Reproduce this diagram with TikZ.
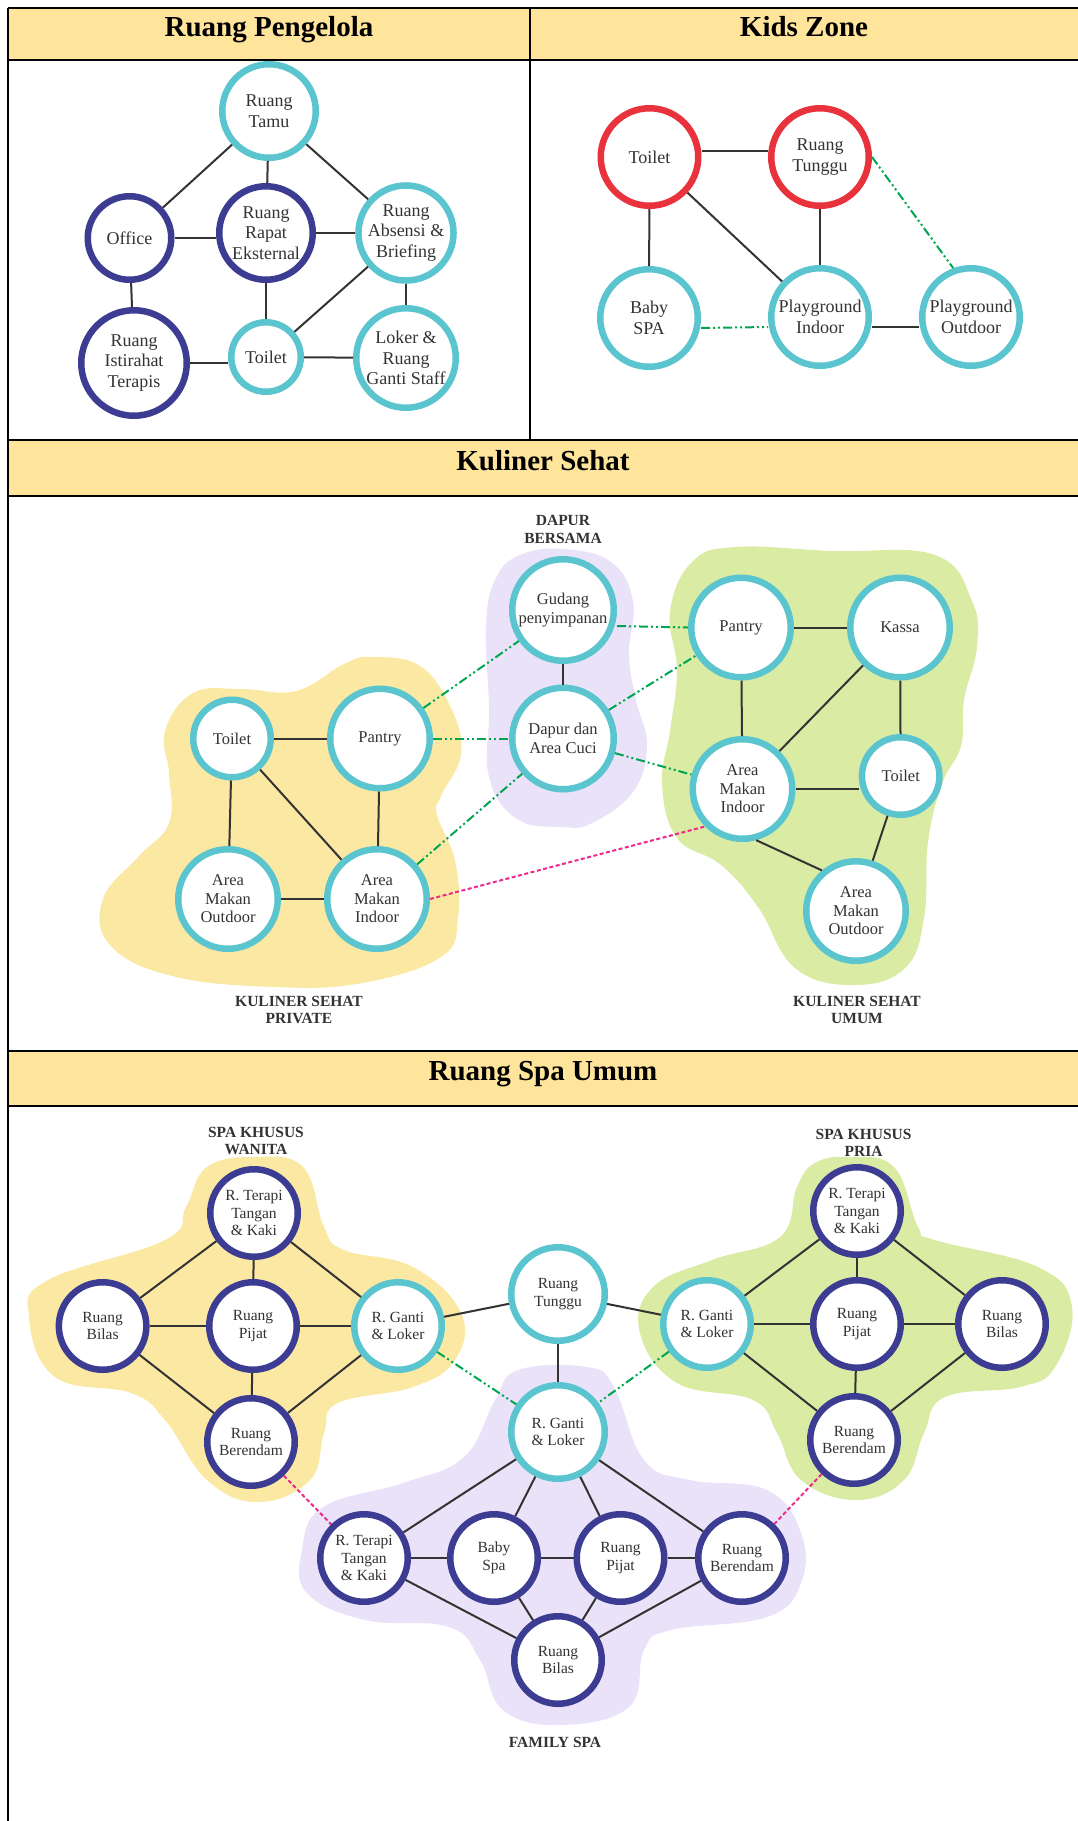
\documentclass[tikz,border=0pt]{standalone}
\usepackage{fontspec}
\setmainfont{Liberation Serif}
\definecolor{kuning}{HTML}{FFE49B}
\definecolor{blobkuning}{HTML}{FBE8A3}
\definecolor{blobhijau}{HTML}{DAEBA3}
\definecolor{blobungu}{HTML}{EAE2F9}
\definecolor{navy}{HTML}{3C3C92}
\definecolor{tosca}{HTML}{5BC5CF}
\definecolor{merah}{HTML}{E8323C}
\definecolor{hijau}{HTML}{00A54F}
\definecolor{merahmuda}{HTML}{EC2A8C}
\definecolor{abu}{HTML}{333333}

\begin{document}
\begin{tikzpicture}[x=1pt,y=-1pt,
  ruang/.style={circle,draw,fill=white,line width=6.5pt,inner sep=0pt,align=center,text=abu,minimum size=#1},
  cy/.style={draw=tosca},
  nv/.style={draw=navy},
  rd/.style={draw=merah},
  fA/.style={font=\fontsize{18}{20.5}\selectfont},
  fB/.style={font=\fontsize{16.5}{18.5}\selectfont},
  fC/.style={font=\fontsize{15.5}{17.5}\selectfont},
  garis/.style={line width=2pt,draw=abu},
  hijaudd/.style={line width=2pt,draw=hijau,dash pattern=on 9pt off 3pt on 2pt off 3pt on 2pt off 3pt},
  pinkd/.style={line width=2pt,draw=merahmuda,dash pattern=on 4pt off 2.5pt},
  tabel/.style={line width=2.3pt,draw=black},
  judul/.style={font=\fontsize{29}{32}\selectfont\bfseries,anchor=base},
  grup/.style={font=\fontsize{15.5}{17.5}\selectfont\bfseries,align=center,text=abu}]
\useasboundingbox (0,0) rectangle (1078,1821);

% tabel
\fill[kuning] (8,8) rectangle (1078,60);
\fill[kuning] (8,440) rectangle (1078,496);
\fill[kuning] (8,1051) rectangle (1078,1106);
\draw[tabel] (8,8) -- (1078,8);
\draw[tabel] (8,60) -- (1078,60);
\draw[tabel] (8,440) -- (1078,440);
\draw[tabel] (8,496) -- (1078,496);
\draw[tabel] (8,1051) -- (1078,1051);
\draw[tabel] (8,1106) -- (1078,1106);
\draw[tabel] (530,8) -- (530,440);
\draw[tabel] (8,8) -- (8,1821);

\node[judul] (J1) at (269,36) {Ruang Pengelola};
\node[judul] (J2) at (804,36) {Kids Zone};
\node[judul] (J3) at (543,470) {Kuliner Sehat};
\node[judul] (J4) at (543,1080) {Ruang Spa Umum};

% ruang pengelola
\node[ruang=93.5,cy,fA] (TM) at (269,111) {Ruang\\Tamu};
\node[ruang=83.5,nv,fA] (OF) at (129.5,238) {Office};
\node[ruang=93.5,nv,fA] (RP) at (266,233) {Ruang\\Rapat\\Eksternal};
\node[ruang=93.5,cy,fA] (AB) at (406,233) {Ruang\\Absensi \&\\Briefing};
\node[ruang=105.5,nv,fA] (IT) at (134,363) {Ruang\\Istirahat\\Terapis};
\node[ruang=69.5,cy,fA] (TO) at (266,357) {Toilet};
\node[ruang=99.5,cy,fA] (LK) at (406,358) {Loker \&\\Ruang\\Ganti Staff};
\draw[garis] (TM) -- (OF);
\draw[garis] (TM) -- (RP);
\draw[garis] (TM) -- (AB);
\draw[garis] (OF.east) -- (OF.east -| RP.west);
\draw[garis] (RP) -- (AB);
\draw[garis] (OF) -- (IT);
\draw[garis] (RP) -- (TO);
\draw[garis] (AB) -- (TO);
\draw[garis] (AB) -- (LK);
\draw[garis] (IT.east) -- (IT.east -| TO.west);
\draw[garis] (TO) -- (LK);

% kids zone
\begin{scope}[shift={(530,0)}]
	\node[ruang=97.5,rd,fA] (KT) at (119.5,157) {Toilet};
	\node[ruang=97.5,rd,fA] (KR) at (290,157) {Ruang\\Tunggu};
	\node[ruang=97.5,cy,fA] (KB) at (119,318) {Baby\\SPA};
	\node[ruang=97.5,cy,fA] (KI) at (290,317) {Playground\\Indoor};
	\node[ruang=97.5,cy,fA] (KO) at (441,317) {Playground\\Outdoor};
	\draw[garis] ([yshift=6pt]KT.east) -- ([yshift=6pt]KR.west);
	\draw[garis] (KT) -- (KB);
	\draw[garis] (KT) -- (KI);
	\draw[garis] (KR) -- (KI);
	\draw[garis] ([yshift=-10pt]KI.east) -- ([yshift=-10pt]KO.west);
	\draw[hijaudd] ([yshift=-10pt]KB.east) -- ([yshift=-10pt]KI.west);
	\draw[hijaudd] (KR.east) -- (KO.110);
\end{scope}

% kuliner sehat
\begin{scope}[shift={(0,440)}]
	\fill[blobkuning] plot[smooth cycle,tension=0.7] coordinates {(165,291) (193,253) (241,249) (296,251) (344,224) (372,217) (420,226) (451,268) (461,314) (441,356) (437,375) (455,421) (458,478) (441,517) (362,543) (275,547) (172,536) (110,505) (103,459) (138,417) (169,383) (169,333)};
	\fill[blobungu] plot[smooth cycle,tension=0.7] coordinates {(563,109) (611,122) (633,161) (629,214) (636,260) (647,306) (633,352) (592,383) (563,387) (517,379) (489,337) (489,268) (486,184) (496,138) (520,115)};
	\fill[blobhijau] plot[smooth cycle,tension=0.7] coordinates {(692,122) (736,107) (832,111) (935,115) (972,161) (977,207) (964,260) (961,306) (942,344) (928,402) (924,478) (905,528) (854,545) (795,528) (758,467) (721,425) (677,398) (662,344) (670,291) (677,230) (670,172)};
	\node[grup] (LD) at (563,89.5) {DAPUR\\BERSAMA};
	\node[grup] (LP) at (299,570) {KULINER SEHAT\\PRIVATE};
	\node[grup] (LU) at (857,570) {KULINER SEHAT\\UMUM};
	\node[ruang=77.5,cy,fB] (PT) at (232,298.5) {Toilet};
	\node[ruang=99.5,cy,fB] (PP) at (380,298.5) {Pantry};
	\node[ruang=99.5,cy,fB] (PO) at (228,459) {Area\\Makan\\Outdoor};
	\node[ruang=99.5,cy,fB] (PI) at (377,459) {Area\\Makan\\Indoor};
	\node[ruang=101.5,cy,fB] (DG) at (563,170) {Gudang\\penyimpanan};
	\node[ruang=101.5,cy,fB] (DC) at (563,298.5) {Dapur dan\\Area Cuci};
	\node[ruang=99.5,cy,fB] (UP) at (741,187.5) {Pantry};
	\node[ruang=99.5,cy,fB] (UK) at (900,187.5) {Kassa};
	\node[ruang=99.5,cy,fB] (UI) at (742.5,349) {Area\\Makan\\Indoor};
	\node[ruang=77.5,cy,fB] (UT) at (900.7,336) {Toilet};
	\node[ruang=99.5,cy,fB] (UO) at (856,471) {Area\\Makan\\Outdoor};
	\draw[garis] (PT) -- (PP);
	\draw[garis] (PT) -- (PO);
	\draw[garis] (PT) -- (PI);
	\draw[garis] (PP) -- (PI);
	\draw[garis] (PO) -- (PI);
	\draw[garis] (DG) -- (DC);
	\draw[garis] (UP) -- (UK);
	\draw[garis] (UP) -- (UI);
	\draw[garis] (UK) -- (UI);
	\draw[garis] (UK) -- (UT);
	\draw[garis] (UI.east) -- (UI.east -| UT.west);
	\draw[garis] (UT) -- (UO);
	\draw[garis] (UI.-75) -- (UO.130);
	\draw[hijaudd] (PP) -- (DG);
	\draw[hijaudd] (PP) -- (DC);
	\draw[hijaudd] (PI) -- (DC);
	\draw[hijaudd] ([yshift=-16pt]DG.east) -- (UP.west);
	\draw[hijaudd] (DC) -- (UP);
	\draw[hijaudd] (DC) -- (UI);
	\draw[pinkd] (PI.east) -- (UI.south west);
\end{scope}

% ruang spa umum
\begin{scope}[shift={(0,1051)}]
	\fill[blobkuning] plot[smooth cycle,tension=0.7] coordinates {(255,106) (303,116) (324,176) (344,199) (413,216) (461,262) (455,309) (413,336) (338,352) (324,382) (310,429) (258,451) (207,429) (165,369) (131,342) (55,326) (29,266) (48,229) (165,189) (186,156) (207,116)};
	\fill[blobhijau] plot[smooth cycle,tension=0.7] coordinates {(849,106) (894,116) (918,176) (935,189) (1038,216) (1072,256) (1055,316) (1020,336) (945,346) (924,382) (904,429) (856,449) (801,429) (777,382) (753,349) (677,332) (640,282) (653,236) (712,209) (780,186) (797,136) (815,112)};
	\fill[blobungu] plot[smooth cycle,tension=0.7] coordinates {(518,319) (587,316) (614,336) (644,409) (690,429) (767,439) (801,482) (801,532) (767,566) (671,579) (644,599) (629,656) (560,674) (503,659) (480,609) (449,576) (365,569) (307,542) (302,499) (323,456) (403,432) (464,406) (495,349)};
	\node[grup] (LW) at (256,90) {SPA KHUSUS\\WANITA};
	\node[grup] (LR) at (863.6,92) {SPA KHUSUS\\PRIA};
	\node[grup] (LF) at (555,691) {FAMILY SPA};
	% wanita
	\node[ruang=87.5,nv,fC] (WT) at (254,162) {R. Terapi\\Tangan\\\& Kaki};
	\node[ruang=87.5,nv,fC] (WB) at (102.6,275) {Ruang\\Bilas};
	\node[ruang=87.5,nv,fC] (WP) at (253,275) {Ruang\\Pijat};
	\node[ruang=87.5,cy,fC] (WG) at (398,275) {R. Ganti\\\& Loker};
	\node[ruang=87.5,nv,fC] (WR) at (251,391) {Ruang\\Berendam};
	% tunggu
	\node[ruang=93.5,cy,fC] (ST) at (558,243) {Ruang\\Tunggu};
	% pria
	\node[ruang=87.5,cy,fC] (QG) at (707,273) {R. Ganti\\\& Loker};
	\node[ruang=87.5,nv,fC] (QT) at (857,160) {R. Terapi\\Tangan\\\& Kaki};
	\node[ruang=87.5,nv,fC] (QP) at (857,273) {Ruang\\Pijat};
	\node[ruang=87.5,nv,fC] (QB) at (1002,273) {Ruang\\Bilas};
	\node[ruang=87.5,nv,fC] (QR) at (854,389) {Ruang\\Berendam};
	% family
	\node[ruang=93.5,cy,fC] (FG) at (558,381) {R. Ganti\\\& Loker};
	\node[ruang=87.5,nv,fC] (FT) at (364,507) {R. Terapi\\Tangan\\\& Kaki};
	\node[ruang=87.5,nv,fC] (FB) at (494,507) {Baby\\Spa};
	\node[ruang=87.5,nv,fC] (FP) at (620.5,507) {Ruang\\Pijat};
	\node[ruang=87.5,nv,fC] (FR) at (742,507) {Ruang\\Berendam};
	\node[ruang=87.5,nv,fC] (FL) at (558,609) {Ruang\\Bilas};
	\draw[garis] (WT) -- (WB);
	\draw[garis] (WT) -- (WP);
	\draw[garis] (WT) -- (WG);
	\draw[garis] (WB) -- (WP);
	\draw[garis] (WP) -- (WG);
	\draw[garis] (WB) -- (WR);
	\draw[garis] (WP) -- (WR);
	\draw[garis] (WG) -- (WR);
	\draw[garis] (WG) -- (ST);
	\draw[garis] (ST) -- (QG);
	\draw[garis] (ST) -- (FG);
	\draw[garis] (QG) -- (QT);
	\draw[garis] (QG) -- (QP);
	\draw[garis] (QG) -- (QR);
	\draw[garis] (QT) -- (QP);
	\draw[garis] (QT) -- (QB);
	\draw[garis] (QP) -- (QB);
	\draw[garis] (QP) -- (QR);
	\draw[garis] (QB) -- (QR);
	\draw[garis] (FG) -- (FT);
	\draw[garis] (FG) -- (FB);
	\draw[garis] (FG) -- (FP);
	\draw[garis] (FG) -- (FR);
	\draw[garis] (FT) -- (FB);
	\draw[garis] (FB) -- (FP);
	\draw[garis] (FP) -- (FR);
	\draw[garis] (FT) -- (FL);
	\draw[garis] (FB) -- (FL);
	\draw[garis] (FP) -- (FL);
	\draw[garis] (FR) -- (FL);
	\draw[hijaudd] (WG) -- (FG);
	\draw[hijaudd] (QG) -- (FG);
	\draw[pinkd] (WR) -- (FT);
	\draw[pinkd] (QR) -- (FR);
\end{scope}

\end{tikzpicture}
\end{document}
